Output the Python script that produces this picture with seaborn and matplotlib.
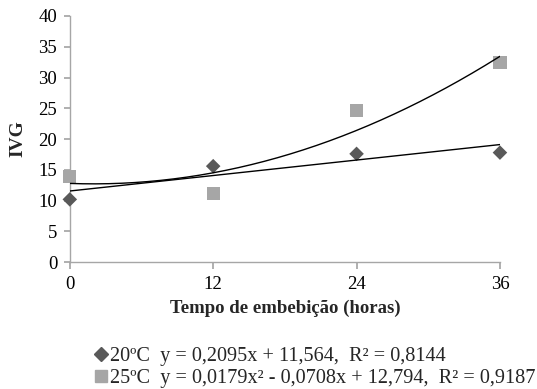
import numpy as np
import pandas as pd
import matplotlib
matplotlib.use("Agg")
import matplotlib.pyplot as plt
import seaborn as sns
from matplotlib.lines import Line2D

# Dados
horas = [0, 12, 24, 36]
ivg_20 = [10.2, 15.6, 17.6, 17.8]
ivg_25 = [13.9, 11.2, 24.6, 32.4]
# coeficientes das linhas de tendência (da legenda)
coef_20 = [0.2095, 11.564]
coef_25 = [0.0179, -0.0708, 12.794]
eq_20 = "20ºC  y = 0,2095x + 11,564,  R² = 0,8144"
eq_25 = "25ºC  y = 0,0179x² - 0,0708x + 12,794,  R² = 0,9187"

sns.set_theme(style="white")
plt.rcParams['font.family'] = ['Liberation Serif', 'DejaVu Serif']

fig = plt.figure(figsize=(5.37, 3.89), dpi=100)
ax = fig.add_axes([0.130, 0.326, 0.801, 0.633])

df = pd.DataFrame({'horas': horas, 'ivg20': ivg_20, 'ivg25': ivg_25})
sns.scatterplot(data=df, x='horas', y='ivg20', marker='D', s=55, color='#595959',
                edgecolor='none', ax=ax, zorder=3, clip_on=False)
sns.scatterplot(data=df, x='horas', y='ivg25', marker='s', s=90, color='#a6a6a6',
                edgecolor='none', ax=ax, zorder=3, clip_on=False)

xs = np.linspace(0, 36, 200)
trend = pd.DataFrame({'x': xs, 'l20': np.polyval(coef_20, xs), 'l25': np.polyval(coef_25, xs)})
sns.lineplot(data=trend, x='x', y='l20', color='black', linewidth=1.0, ax=ax, zorder=4)
sns.lineplot(data=trend, x='x', y='l25', color='black', linewidth=1.0, ax=ax, zorder=4)

ax.set_xlim(0, 36)
ax.set_ylim(0, 40)
ax.set_xticks([0, 12, 24, 36])
ax.set_yticks(range(0, 41, 5))
for s in ['top', 'right']:
    ax.spines[s].set_visible(False)
for s in ['left', 'bottom']:
    ax.spines[s].set_color('#a6a6a6')
    ax.spines[s].set_linewidth(1.0)
ax.tick_params(axis='y', which='both', left=True, length=4, color='#a6a6a6',
               labelsize=13.5, pad=5, labelcolor='black')
ax.tick_params(axis='x', which='both', bottom=True, length=5, color='#a6a6a6',
               labelsize=13.5, pad=5, labelcolor='black')

ax.set_xlabel('Tempo de embebição (horas)', fontsize=13.5, fontweight='bold', labelpad=5)
ax.set_ylabel('IVG', fontsize=14, fontweight='bold', labelpad=9)

# legenda manual
h20 = Line2D([], [], marker='D', color='#595959', linestyle='none', markersize=7)
h25 = Line2D([], [], marker='s', color='#a6a6a6', linestyle='none', markersize=9)
fig.legend([h20, h25], [eq_20, eq_25], loc='upper left', bbox_to_anchor=(0.176, 0.108),
           frameon=False, fontsize=14.6, handlelength=0.6, handletextpad=0.15,
           labelspacing=0.12, borderaxespad=0, borderpad=0)

fig.savefig('out.png', dpi=100)
plt.close(fig)
